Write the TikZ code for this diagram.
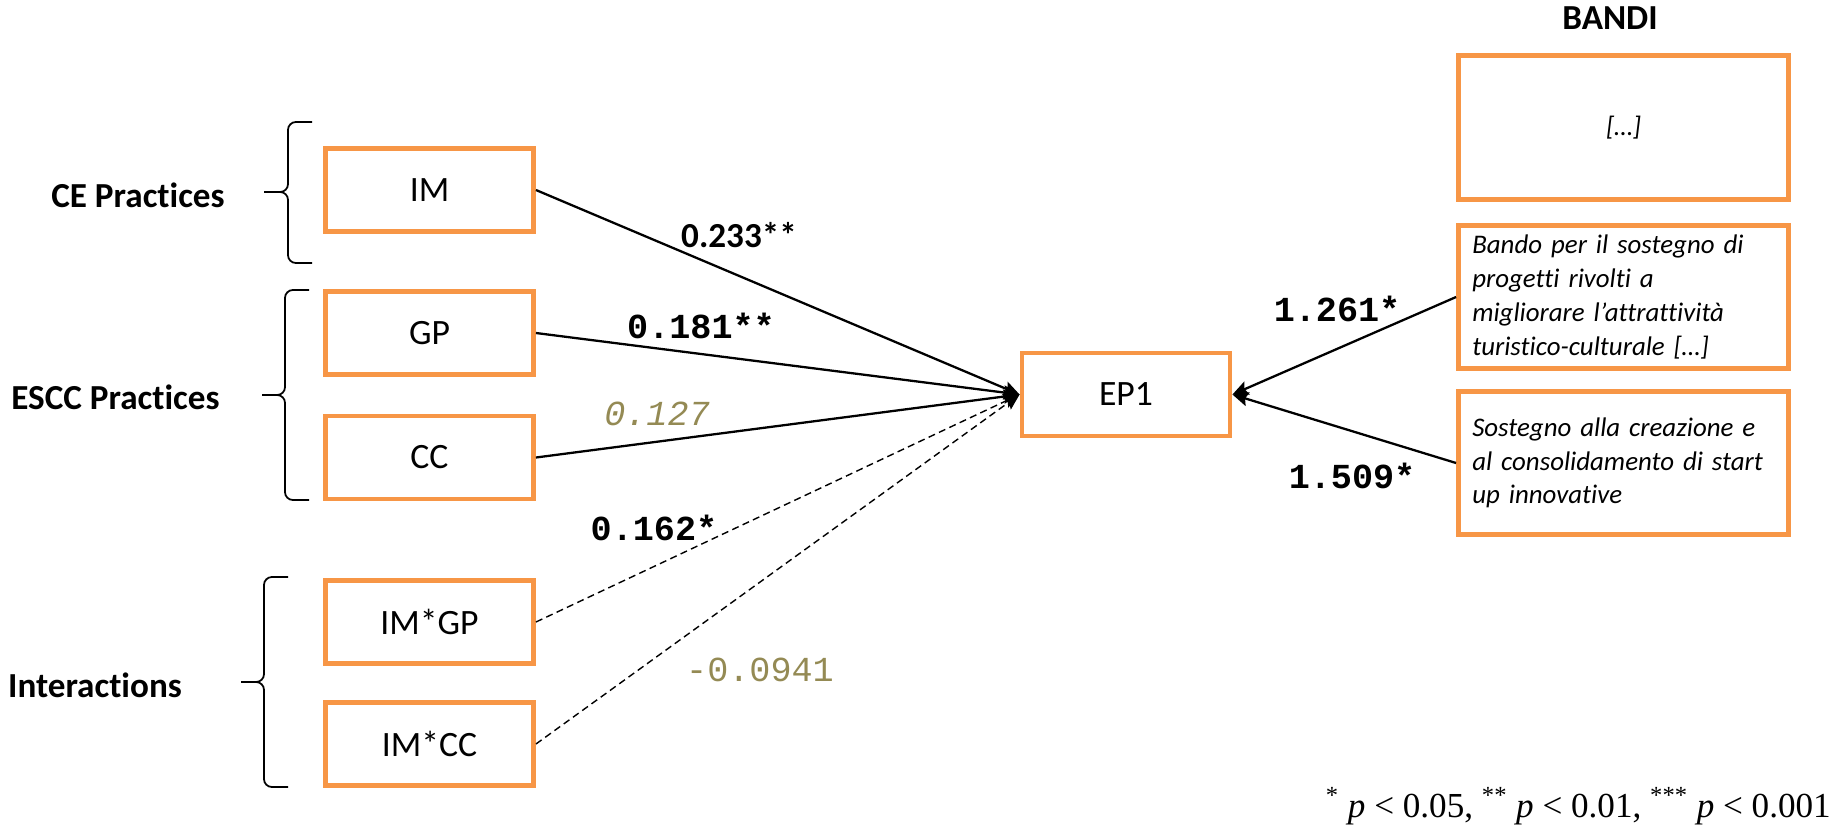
\documentclass[tikz,border=0pt]{standalone}
\usepackage{fontspec}
\setmainfont{Carlito}[Ligatures=NoCommon]
\setmonofont{Liberation Mono}
\newfontfamily\notefont{Liberation Serif}
\usetikzlibrary{arrows.meta}
\definecolor{boxorange}{HTML}{F79646}
\definecolor{nsolive}{HTML}{948A54}
\tikzset{
    varbox/.style={draw=boxorange, line width=2.8pt, minimum width=4.16cm, minimum height=1.66cm, font=\fontsize{20.3}{24}\selectfont},
    bandobox/.style={draw=boxorange, line width=2.8pt, minimum width=6.6cm, minimum height=2.87cm, text width=6.05cm, align=left, font=\fontsize{15.3}{19.2}\selectfont\itshape},
    grouplabel/.style={anchor=base, font=\fontsize{20}{24}\selectfont\bfseries},
    coef/.style={anchor=base, font=\fontsize{20}{24}\selectfont\ttfamily\bfseries},
    nscoef/.style={anchor=base, text=nsolive, font=\fontsize{20}{24}\selectfont\ttfamily},
    effect/.style={line width=1.3pt, -{Stealth[length=9pt, width=8pt, inset=1.5pt]}},
    effectdash/.style={effect, line width=0.8pt, dash pattern=on 4pt off 2.5pt},
    bracket/.style={line width=1pt, rounded corners=4.5pt},
}
\begin{document}
\begin{tikzpicture}[x=0.02cm, y=-0.02cm]
    \useasboundingbox (0,0) rectangle (1839,829);
    % practices and interactions
    \node [varbox] (0) at (429.5, 190) {IM};
    \node [varbox] (1) at (429.5, 333) {GP};
    \node [varbox] (2) at (429.5, 457.5) {CC};
    \node [varbox] (3) at (429.5, 622) {IM*GP};
    \node [varbox] (4) at (429.5, 744) {IM*CC};
    % outcome
    \node [varbox] (5) at (1126, 394.5) {EP1};
    % bandi
    \node [grouplabel] (6) at (1610, 29) {BANDI};
    \node [bandobox, align=center] (7) at (1623.5, 127.5) {[…]};
    \node [bandobox] (8) at (1623.5, 297) {Bando per il sostegno di\\ progetti rivolti a\\ migliorare l’attrattività\\ turistico-culturale […]};
    \node [bandobox] (9) at (1623.5, 463) {Sostegno alla creazione e\\ al consolidamento di start\\ up innovative};
    % group labels
    \node [grouplabel] (10) at (138, 207) {CE Practices};
    \node [grouplabel] (11) at (115.5, 409) {ESCC Practices};
    \node [grouplabel] (12) at (95, 697) {Interactions};
    \draw [bracket] (312, 122) -- (288, 122) -- (288, 192) -- (264, 192);
    \draw [bracket] (264, 192) -- (288, 192) -- (288, 263) -- (312, 263);
    \draw [bracket] (309, 290) -- (285, 290) -- (285, 395) -- (262, 395);
    \draw [bracket] (262, 395) -- (285, 395) -- (285, 500) -- (309, 500);
    \draw [bracket] (288, 577) -- (264, 577) -- (264, 682) -- (241, 682);
    \draw [bracket] (241, 682) -- (264, 682) -- (264, 787) -- (288, 787);
    % effects
    \draw [effect] (0.east) to (5.west);
    \draw [effect] (1.east) to (5.west);
    \draw [effect] (2.east) to (5.west);
    \draw [effectdash] (3.east) to (5.west);
    \draw [effectdash] (4.east) to (5.west);
    \draw [effect] (8.west) to (5.east);
    \draw [effect] (9.west) to (5.east);
    % coefficients
    \node [grouplabel] (13) at (739, 247) {0.233**};
    \node [coef] (14) at (701, 338) {0.181**};
    \node [nscoef, font=\fontsize{20}{24}\selectfont\ttfamily\itshape] (15) at (657, 425) {0.127};
    \node [coef] (16) at (654, 540) {0.162*};
    \node [nscoef] (17) at (760, 681) {-0.0941};
    \node [coef] (18) at (1337, 321) {1.261*};
    \node [coef] (19) at (1352, 488) {1.509*};
    % significance
    \node [anchor=base east, font=\fontsize{20}{24}\selectfont\notefont] (20) at (1837, 817) {\textsuperscript{*} \textit{p} < 0.05, \textsuperscript{**} \textit{p} < 0.01, \textsuperscript{***} \textit{p} < 0.001};
\end{tikzpicture}
\end{document}
